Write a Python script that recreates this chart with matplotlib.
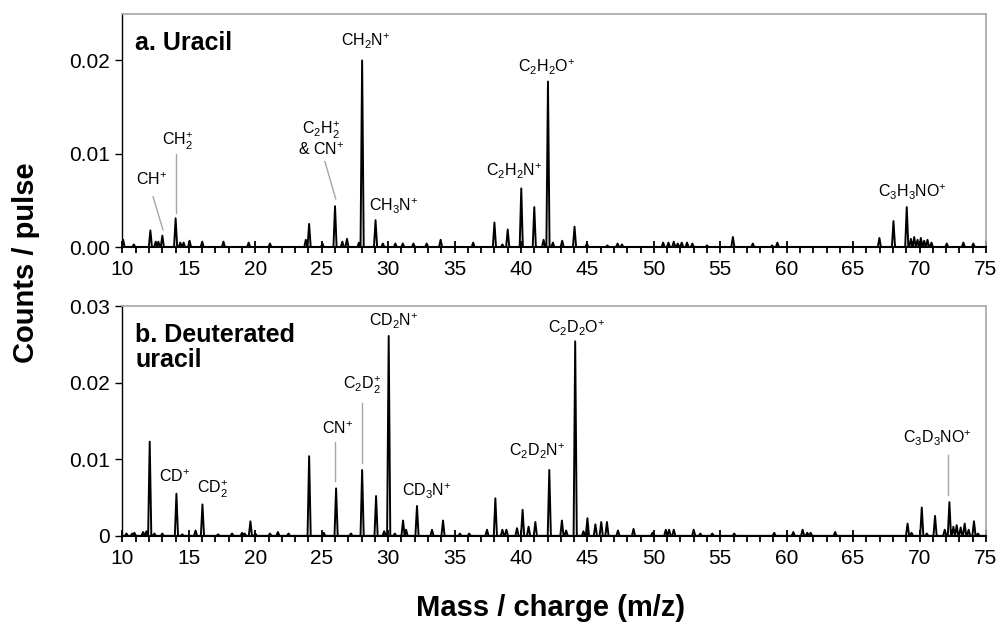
import numpy as np
import matplotlib
matplotlib.use('Agg')
import matplotlib.pyplot as plt
from matplotlib.ticker import MultipleLocator

plt.rcParams['font.family'] = ['Liberation Sans', 'DejaVu Sans']
plt.rcParams['mathtext.fontset'] = 'custom'
plt.rcParams['mathtext.rm'] = 'Liberation Sans'
plt.rcParams['mathtext.it'] = 'Liberation Sans'
plt.rcParams['mathtext.bf'] = 'Liberation Sans:bold'

# (a) uracil: peak positions (m/z) and heights (counts / pulse)
mz_a = [10.05, 10.85, 12.1, 12.5, 12.7, 13.0, 14.0, 14.35, 14.6, 15.05, 16.0, 17.6,
        19.5, 21.1, 23.8, 24.05, 25.05, 26.0, 26.55, 26.9, 27.8, 28.04, 29.05, 29.6,
        30.54, 31.1, 31.9, 32.9, 33.95, 36.4, 38.0, 38.6, 39.0, 40.02, 41.0, 41.7,
        42.03, 42.4, 43.1, 44.03, 44.96, 46.5, 47.27, 47.6, 50.7, 51.1, 51.5, 51.8,
        52.1, 52.5, 52.9, 54.0, 55.95, 57.45, 58.9, 59.3, 66.98, 68.04, 69.04, 69.35,
        69.6, 69.85, 70.1, 70.35, 70.6, 70.9, 72.05, 73.3, 74.05]
int_a = [0.0008, 0.0003, 0.0018, 0.0006, 0.0006, 0.00125, 0.0031, 0.0005, 0.0005, 0.0007,
         0.0006, 0.0006, 0.0005, 0.0004, 0.0008, 0.0025, 0.0004, 0.0044, 0.0006, 0.0009,
         0.0005, 0.0200, 0.0029, 0.0004, 0.0004, 0.0004, 0.0004, 0.0004, 0.0008, 0.0005,
         0.00265, 0.0003, 0.0019, 0.0063, 0.0043, 0.0008, 0.01775, 0.0005, 0.0007, 0.0022,
         0.0004, 0.0002, 0.0004, 0.0003, 0.0005, 0.0005, 0.0006, 0.0004, 0.0005, 0.0005,
         0.0004, 0.0002, 0.0011, 0.0004, 0.0002, 0.0005, 0.0010, 0.0028, 0.0043, 0.0009,
         0.0011, 0.0008, 0.0010, 0.0007, 0.0008, 0.0005, 0.0004, 0.0005, 0.0004]

# (b) deuterated uracil
mz_b = [10.3, 10.73, 10.9, 11.55, 11.8, 12.05, 12.4, 13.0, 14.06, 14.5, 15.5, 16.02,
        17.2, 18.25, 19.0, 19.2, 19.63, 20.0, 21.1, 21.7, 22.5, 24.05, 25.15, 26.08,
        27.2, 28.04, 29.09, 29.7, 30.04, 30.5, 31.12, 31.35, 32.17, 33.3, 34.13, 35.4,
        36.1, 37.44, 38.07, 38.6, 38.9, 39.7, 40.12, 40.57, 41.08, 42.13, 43.08, 43.4,
        44.08, 44.7, 45.0, 45.6, 46.04, 46.47, 47.3, 48.47, 49.9, 50.9, 51.15, 51.5,
        53.0, 53.5, 54.4, 56.05, 59.06, 60.5, 61.2, 61.55, 61.8, 63.65, 69.1, 69.4,
        70.17, 70.55, 71.17, 71.9, 72.25, 72.55, 72.8, 73.1, 73.4, 73.7, 74.1, 74.4]
int_b = [0.0003, 0.0003, 0.0004, 0.0005, 0.0006, 0.0123, 0.0003, 0.0003, 0.0055, 0.0002,
         0.0007, 0.0041, 0.0002, 0.0003, 0.0004, 0.0003, 0.0019, 0.0003, 0.0003, 0.0005,
         0.0003, 0.0104, 0.0004, 0.0062, 0.0003, 0.0086, 0.0052, 0.0006, 0.0261, 0.0003,
         0.0020, 0.0008, 0.0039, 0.0008, 0.0020, 0.0003, 0.0003, 0.0008, 0.0049, 0.0008,
         0.0008, 0.0010, 0.0034, 0.0012, 0.0018, 0.0086, 0.0020, 0.0007, 0.0254, 0.0006,
         0.0023, 0.0015, 0.0018, 0.0018, 0.0007, 0.0009, 0.0004, 0.0008, 0.0008, 0.0008,
         0.0008, 0.0003, 0.0003, 0.0003, 0.0004, 0.0005, 0.0008, 0.0004, 0.0004, 0.0005,
         0.0016, 0.0004, 0.0037, 0.0003, 0.0026, 0.0008, 0.0044, 0.0012, 0.0014, 0.0011,
         0.0016, 0.0008, 0.0019, 0.0003]

P = r'^{\mathregular{+}}'
# peak labels: text, x, y ; leader lines: x0, y0, x1, y1
labels_a = [('CH$' + P + '$', 12.22, 0.00724), ('CH$_2' + P + '$', 14.18, 0.01132),
            ('C$_2$H$_2' + P + '$\n& CN$' + P + '$', 24.92, 0.01159),
            ('CH$_2$N$' + P + '$', 28.33, 0.0220),
            ('CH$_3$N$' + P + '$', 30.44, 0.00433), ('C$_2$H$_2$N$' + P + '$', 39.5, 0.0081),
            ('C$_2$H$_2$O$' + P + '$', 41.95, 0.01928),
            ('C$_3$H$_3$NO$' + P + '$', 69.5, 0.00584)]
leaders_a = [(12.30, 0.00541, 13.05, 0.00186), (14.0, 0.01003, 14.0, 0.00369),
             (25.24, 0.00917, 26.05, 0.00519)]
labels_b = [('CD$' + P + '$', 13.95, 0.00767), ('CD$_2' + P + '$', 16.81, 0.0061),
            ('CN$' + P + '$', 26.22, 0.01393), ('C$_2$D$_2' + P + '$', 28.03, 0.01968),
            ('CD$_2$N$' + P + '$', 30.44, 0.02795), ('CD$_3$N$' + P + '$', 32.92, 0.00575),
            ('C$_2$D$_2$N$' + P + '$', 41.24, 0.01097),
            ('C$_2$D$_2$O$' + P + '$', 44.19, 0.02713),
            ('C$_3$D$_3$NO$' + P + '$', 71.38, 0.01276)]
leaders_b = [(26.0, 0.01228, 26.0, 0.00718), (28.0, 0.01737, 28.0, 0.00953),
             (72.16, 0.01054, 72.16, 0.00532)]

HW = 0.12  # peak half width in m/z


def spectrum(mz, inten):
    xs, ys = [10.0], [0.0]
    for m, h in zip(mz, inten):
        xs += [m - HW, m, m + HW]
        ys += [0.0, h, 0.0]
    xs.append(75.0)
    ys.append(0.0)
    return xs, ys


fig = plt.figure(figsize=(10.04, 6.26), dpi=100)
ax1 = fig.add_axes([0.122, 0.605, 0.860, 0.373])
ax2 = fig.add_axes([0.122, 0.144, 0.860, 0.367])

panels = [
    (ax1, mz_a, int_a, labels_a, leaders_a, 0.025, [0, 0.01, 0.02], ['0.00', '0.01', '0.02'],
     'a. Uracil', 0.874),
    (ax2, mz_b, int_b, labels_b, leaders_b, 0.03, [0, 0.01, 0.02, 0.03],
     ['0', '0.01', '0.02', '0.03'], 'b. Deuterated\nuracil', 0.82),
]

for ax, mz, inten, labels, leaders, ymax, yt, ytl, title, ty in panels:
    xs, ys = spectrum(mz, inten)
    ax.plot(xs, ys, color='black', lw=1.4, zorder=3)
    for x0, y0, x1, y1 in leaders:
        ax.plot([x0, x1], [y0, y1], color='#a6a6a6', lw=1.0)
    for txt, x, y in labels:
        ax.text(x, y, txt, ha='center', va='center', fontsize=11.5, multialignment='center',
                linespacing=1.05)
    ax.text(0.0145, ty, title, transform=ax.transAxes, ha='left', va='center',
            fontsize=18, fontweight='bold', linespacing=1.1)
    ax.set_xlim(10, 75)
    ax.set_ylim(0, ymax)
    ax.xaxis.set_major_locator(MultipleLocator(5))
    ax.xaxis.set_minor_locator(MultipleLocator(1))
    ax.set_yticks(yt)
    ax.set_yticklabels(ytl)
    ax.tick_params(axis='x', which='major', direction='inout', length=9, width=1.3,
                   labelsize=15, pad=5)
    ax.tick_params(axis='x', which='minor', direction='out', length=4, width=1.3)
    ax.tick_params(axis='y', direction='out', length=5, width=1, labelsize=15, pad=4)
    for s in ['top', 'right']:
        ax.spines[s].set_color('#a6a6a6')
        ax.spines[s].set_linewidth(1.2)
    ax.spines['left'].set_linewidth(1.0)
    ax.spines['bottom'].set_linewidth(1.5)
    ax.spines['bottom'].set_zorder(4)

fig.text(0.548, 0.029, 'Mass / charge (m/z)', ha='center', va='center',
         fontsize=21, fontweight='bold')
fig.text(0.026, 0.58, 'Counts / pulse', ha='center', va='center', rotation=90,
         fontsize=21, fontweight='bold')

fig.savefig('out.png', dpi=100)
